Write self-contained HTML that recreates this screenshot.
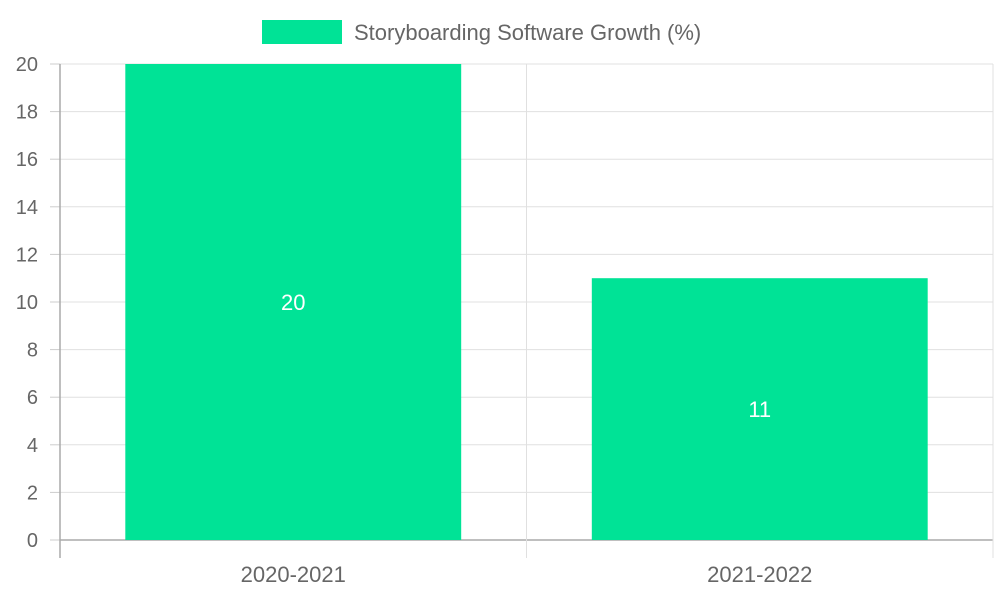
<!DOCTYPE html>
<html><head><meta charset="utf-8"><style>
body{margin:0;background:#fff;font-family:"Liberation Sans",sans-serif}
</style></head><body>
<svg width="1000" height="600" id="c" font-family="Liberation Sans, sans-serif"></svg>
<script>
const categories=["2020-2021","2021-2022"];
const values=[20,11];
const yTicks=[0,2,4,6,8,10,12,14,16,18,20];
const seriesLabel="Storyboarding Software Growth (%)";
const svg=document.getElementById('c');
const NS="http://www.w3.org/2000/svg";
const L=60,R=993,T=64,B=540,yMax=20;
const y=v=>B-(v/yMax)*(B-T);
const bandW=(R-L)/categories.length;
const x=i=>L+bandW*i;
function mk(t,a,txt){const e=document.createElementNS(NS,t);for(const k in a)e.setAttribute(k,a[k]);if(txt!=null)e.textContent=txt;svg.appendChild(e);return e;}
// legend
let e=mk('rect',{x:262,y:20,width:80,height:24,fill:'#00e396'});


e=mk('text',{x:354,y:40,'font-size':22,fill:'#666'},seriesLabel);


// gridlines
yTicks.forEach(t=>{
  let g=mk('line',{x1:L,x2:R,y1:y(t),y2:y(t),stroke:t===0?'#aaa':'#e0e0e0','stroke-width':t===0?1.5:1});
  
  
  let l=mk('text',{x:38,y:y(t)+7,'font-size':20,fill:'#666','text-anchor':'end'},String(t));
  
  
  let tk=mk('line',{x1:50,x2:L,y1:y(t),y2:y(t),stroke:'#ccc'});
  
  
});
for(let i=0;i<=categories.length;i++){
  let g=mk('line',{x1:x(i),x2:x(i),y1:T,y2:558,stroke:i===0?'#aaa':'#e0e0e0','stroke-width':i===0?1.5:1});
  
  
}
categories.forEach((c,i)=>{
  const bw=bandW*0.72, bx=x(i)+(bandW-bw)/2;
  let b=mk('rect',{x:bx,y:y(values[i]),width:bw,height:B-y(values[i]),fill:'#00e396'});
  
  
  let v=mk('text',{x:bx+bw/2,y:(y(values[i])+B)/2+8,'font-size':22,fill:'#fff','text-anchor':'middle'},String(values[i]));
  
  
  let l=mk('text',{x:x(i)+bandW/2,y:582,'font-size':22,fill:'#666','text-anchor':'middle'},c);
  
  
});
</script>
</body></html>
